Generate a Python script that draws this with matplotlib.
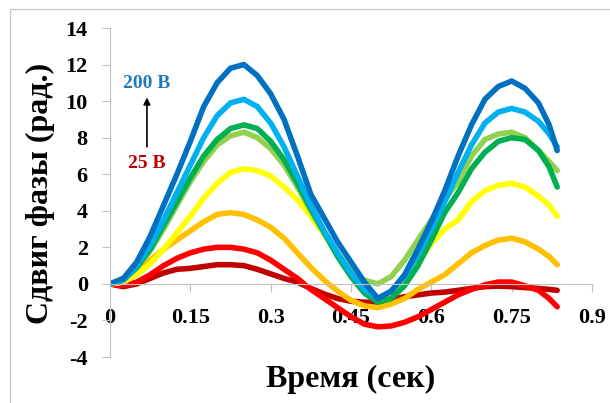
import matplotlib
matplotlib.use('Agg')
import matplotlib.pyplot as plt
import matplotlib.patches as mpatches

plt.rcParams['font.family'] = 'serif'
plt.rcParams['font.serif'] = ['Liberation Serif', 'DejaVu Serif']
plt.rcParams['font.weight'] = 'bold'
plt.rcParams['axes.unicode_minus'] = False

t = [0, 0.025, 0.05, 0.075, 0.1, 0.125, 0.15, 0.175, 0.2, 0.225, 0.25, 0.275,
     0.3, 0.325, 0.35, 0.375, 0.4, 0.425, 0.45, 0.475, 0.5, 0.525, 0.55, 0.575,
     0.6, 0.625, 0.65, 0.675, 0.7, 0.725, 0.75, 0.775, 0.8, 0.82, 0.835]

v25 = [0, -0.15, 0.0, 0.3, 0.6, 0.8, 0.85, 0.95, 1.05, 1.05, 1.0, 0.8,
       0.55, 0.3, 0.1, -0.25, -0.55, -0.8, -0.95, -1.0, -1.0, -0.85, -0.7, -0.6,
       -0.5, -0.45, -0.35, -0.25, -0.15, -0.12, -0.15, -0.2, -0.25, -0.3, -0.35]
v50 = [0, -0.1, 0.1, 0.5, 1.0, 1.4, 1.7, 1.9, 2.0, 2.0, 1.9, 1.7,
       1.3, 0.8, 0.3, -0.3, -0.8, -1.3, -1.8, -2.2, -2.35, -2.3, -2.1, -1.8,
       -1.4, -1.0, -0.6, -0.3, -0.05, 0.1, 0.1, -0.1, -0.35, -0.8, -1.25]
v75 = [0, 0.1, 0.6, 1.3, 1.9, 2.4, 2.9, 3.4, 3.8, 3.9, 3.8, 3.5,
       3.1, 2.5, 1.7, 0.9, 0.2, -0.4, -0.9, -1.2, -1.3, -1.1, -0.8, -0.3,
       0.1, 0.5, 1.1, 1.7, 2.1, 2.4, 2.5, 2.3, 1.9, 1.5, 1.05]
v100 = [0, 0.1, 0.5, 1.1, 1.9, 2.8, 3.7, 4.7, 5.5, 6.1, 6.3, 6.2,
        5.9, 5.3, 4.6, 3.7, 2.7, 1.7, 0.7, -0.2, -0.8, -0.6, 0.2, 1.2,
        2.2, 3.0, 3.5, 4.5, 5.1, 5.4, 5.5, 5.3, 4.8, 4.3, 3.7]
v125 = [0, 0.3, 0.9, 1.8, 3.0, 4.3, 5.6, 6.7, 7.6, 8.1, 8.3, 8.0,
        7.4, 6.5, 5.3, 4.0, 2.8, 1.6, 0.7, 0.2, 0.0, 0.4, 1.3, 2.4,
        3.5, 4.6, 5.6, 7.0, 7.9, 8.2, 8.3, 8.0, 7.3, 6.7, 6.2]
v150 = [0, 0.2, 0.9, 1.9, 3.2, 4.5, 5.8, 7.0, 7.9, 8.5, 8.7, 8.5,
        7.8, 6.8, 5.5, 4.1, 2.8, 1.5, 0.4, -0.5, -1.0, -0.8, -0.1, 1.0,
        2.4, 3.9, 5.0, 6.3, 7.2, 7.8, 8.0, 7.9, 7.3, 6.4, 5.3]
v175 = [0, 0.2, 1.0, 2.1, 3.5, 5.0, 6.5, 8.0, 9.2, 9.9, 10.1, 9.7,
        8.8, 7.5, 5.9, 4.3, 2.9, 1.7, 0.6, -0.3, -0.8, -0.4, 0.4, 1.6,
        3.0, 4.5, 6.1, 7.6, 8.8, 9.4, 9.6, 9.4, 8.9, 8.2, 7.5]
v200 = [0, 0.3, 1.2, 2.6, 4.3, 6.0, 7.8, 9.7, 11.0, 11.8, 12.0, 11.4,
        10.4, 9.0, 7.0, 4.9, 3.6, 2.3, 1.2, 0.1, -0.8, -0.4, 0.5, 1.9,
        3.4, 5.1, 7.0, 8.7, 10.1, 10.8, 11.1, 10.7, 9.9, 8.7, 7.3]

series = [v25, v50, v75, v100, v125, v150, v175, v200]
colors = ['#C00000', '#FF0000', '#FFC000', '#FFFF00',
          '#92D050', '#00B050', '#00B0F0', '#0070C0']

xticks = [0, 0.15, 0.3, 0.45, 0.6, 0.75, 0.9]
xlabels = ['0', '0.15', '0.3', '0.45', '0.6', '0.75', '0.9']
yticks = [-4, -2, 0, 2, 4, 6, 8, 10, 12, 14]

fig = plt.figure(figsize=(6.1, 4.03), dpi=100)
ax = fig.add_axes([0.1803, 0.1141, 0.7902, 0.8164])

for vals, c in zip(series, colors):
    ax.plot(t, vals, color=c, lw=4, solid_capstyle='round', solid_joinstyle='round')

# spine moves reset the ticks, so do this before labelling them
for s in ['top', 'right']:
    ax.spines[s].set_visible(False)
ax.spines['bottom'].set_position(('data', 0))
ax.spines['left'].set_color('#BFBFBF')
ax.spines['bottom'].set_color('#BFBFBF')

ax.set_xlim(0, 0.9)
ax.set_ylim(-4, 14)
ax.set_xticks(xticks)
ax.set_xticklabels(xlabels)
ax.set_yticks(yticks)
ax.set_yticklabels([str(v) for v in yticks])
ax.tick_params(axis='both', direction='out', length=6, color='#BFBFBF',
               labelsize=16, pad=10)
ax.tick_params(axis='x', pad=11)

fig.text(40 / 610, 0.521, 'Сдвиг фазы (рад.)', fontsize=23, fontweight='bold',
         rotation=90, ha='center', va='center')
fig.text(0.574, 0.04, 'Время (сек)', fontsize=23, fontweight='bold',
         ha='center', va='baseline')

ax.text(0.069, 10.98, '200 В', color='#1F7BC0', fontsize=14,
        fontweight='bold', ha='center', va='center')
ax.text(0.069, 6.6, '25 В', color='#C00000', fontsize=14,
        fontweight='bold', ha='center', va='center')
ax.annotate('', xy=(0.069, 10.2), xytext=(0.069, 7.5),
            arrowprops=dict(arrowstyle='-|>', color='black', lw=1.2,
                            mutation_scale=10, shrinkA=0, shrinkB=0))

fig.patches.append(mpatches.Rectangle((10 / 610, -0.1), 1.2, (403 - 9) / 403 + 0.1,
                                      transform=fig.transFigure, fill=False,
                                      edgecolor='#C8C8C8', lw=1))

fig.savefig('out.png', dpi=100)
